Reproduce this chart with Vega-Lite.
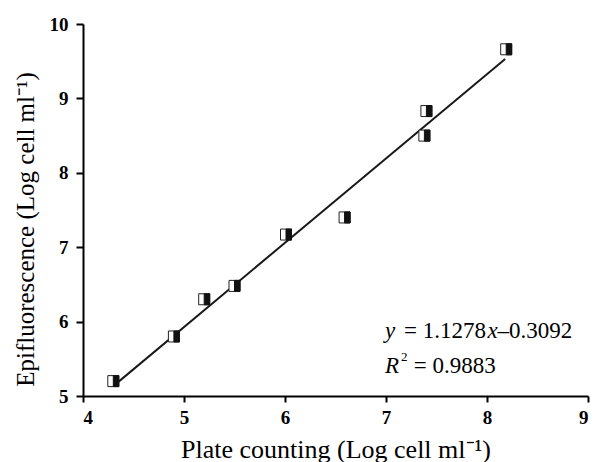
{
  "$schema": "https://vega.github.io/schema/vega-lite/v6.json",
  "width": 505,
  "height": 372,
  "autosize": {"type": "none"},
  "padding": {"left": 83, "top": 24, "right": 7, "bottom": 66},
  "background": "white",
  "config": {"view": {"stroke": null}, "font": "Liberation Serif"},
  "datasets": {
    "points": [
      {"plate": 4.30, "epi": 5.20},
      {"plate": 4.90, "epi": 5.80},
      {"plate": 5.20, "epi": 6.30},
      {"plate": 5.50, "epi": 6.48},
      {"plate": 6.01, "epi": 7.17},
      {"plate": 6.59, "epi": 7.40},
      {"plate": 7.38, "epi": 8.50},
      {"plate": 7.40, "epi": 8.83},
      {"plate": 8.19, "epi": 9.66}
    ],
    "fit": [
      {"plate": 4.35, "epi": 5.19},
      {"plate": 8.18, "epi": 9.53}
    ],
    "eqItalic": [
      {"plate": 6.99, "epi": 5.776, "t": "y"},
      {"plate": 8.005, "epi": 5.776, "t": "x"},
      {"plate": 6.99, "epi": 5.305, "t": "R"}
    ],
    "eqNormal": [
      {"plate": 7.178, "epi": 5.776, "t": "= 1.1278"},
      {"plate": 8.105, "epi": 5.776, "t": "–0.3092"},
      {"plate": 7.275, "epi": 5.305, "t": "= 0.9883"}
    ],
    "eqSup": [
      {"plate": 7.149, "epi": 5.474, "t": "2"}
    ]
  },
  "layer": [
    {
      "data": {"name": "fit"},
      "mark": {"type": "line", "color": "#1a1a1a", "strokeWidth": 2},
      "encoding": {
        "x": {
          "field": "plate", "type": "quantitative",
          "scale": {"domain": [4, 9], "nice": false, "zero": false},
          "axis": {
            "values": [4, 5, 6, 7, 8, 9],
            "format": "d",
            "grid": false,
            "domainColor": "#000", "domainWidth": 2,
            "tickColor": "#000", "tickWidth": 2, "tickSize": 6,
            "labelFont": "Liberation Serif", "labelFontWeight": "bold", "labelFontSize": 19,
            "labelColor": "#000", "labelPadding": 6,
            "title": "Plate counting (Log cell ml⁻¹)",
            "titleFont": "Liberation Serif", "titleFontWeight": "normal", "titleFontSize": 26,
            "titleColor": "#000", "titlePadding": 9
          }
        },
        "y": {
          "field": "epi", "type": "quantitative",
          "scale": {"domain": [5, 10], "nice": false, "zero": false},
          "axis": {
            "values": [5, 5.5, 6, 6.5, 7, 7.5, 8, 8.5, 9, 9.5, 10],
            "format": ".1f",
            "labelExpr": "datum.value % 1 === 0 ? format(datum.value, 'd') : ''",
            "grid": false,
            "domainColor": "#000", "domainWidth": 2,
            "tickColor": "#000", "tickWidth": 2,
            "tickSize": {"condition": {"test": "datum.value % 1 !== 0", "value": 4}, "value": 7},
            "labelFont": "Liberation Serif", "labelFontWeight": "bold", "labelFontSize": 19,
            "labelColor": "#000", "labelPadding": 8,
            "title": "Epifluorescence (Log cell ml⁻¹)",
            "titleFont": "Liberation Serif", "titleFontWeight": "normal", "titleFontSize": 25,
            "titleColor": "#000", "titlePadding": 11, "titleY": 205
          }
        }
      }
    },
    {
      "data": {"name": "points"},
      "mark": {"type": "point", "shape": "square", "filled": true, "fill": "white", "stroke": "#222", "strokeWidth": 1, "size": 121, "opacity": 1},
      "encoding": {
        "x": {"field": "plate", "type": "quantitative"},
        "y": {"field": "epi", "type": "quantitative"}
      }
    },
    {
      "data": {"name": "points"},
      "mark": {"type": "point", "shape": "M0,-1H1V1H0Z", "filled": true, "fill": "#111", "stroke": "#111", "strokeWidth": 1, "size": 121, "opacity": 1},
      "encoding": {
        "x": {"field": "plate", "type": "quantitative"},
        "y": {"field": "epi", "type": "quantitative"}
      }
    },
    {
      "data": {"name": "eqItalic"},
      "mark": {"type": "text", "font": "Liberation Serif", "fontStyle": "italic", "fontSize": 23, "align": "left", "baseline": "alphabetic", "color": "#000"},
      "encoding": {
        "x": {"field": "plate", "type": "quantitative"},
        "y": {"field": "epi", "type": "quantitative"},
        "text": {"field": "t"}
      }
    },
    {
      "data": {"name": "eqNormal"},
      "mark": {"type": "text", "font": "Liberation Serif", "fontSize": 23, "align": "left", "baseline": "alphabetic", "color": "#000"},
      "encoding": {
        "x": {"field": "plate", "type": "quantitative"},
        "y": {"field": "epi", "type": "quantitative"},
        "text": {"field": "t"}
      }
    },
    {
      "data": {"name": "eqSup"},
      "mark": {"type": "text", "font": "Liberation Serif", "fontSize": 13, "align": "left", "baseline": "alphabetic", "color": "#000"},
      "encoding": {
        "x": {"field": "plate", "type": "quantitative"},
        "y": {"field": "epi", "type": "quantitative"},
        "text": {"field": "t"}
      }
    }
  ]
}
